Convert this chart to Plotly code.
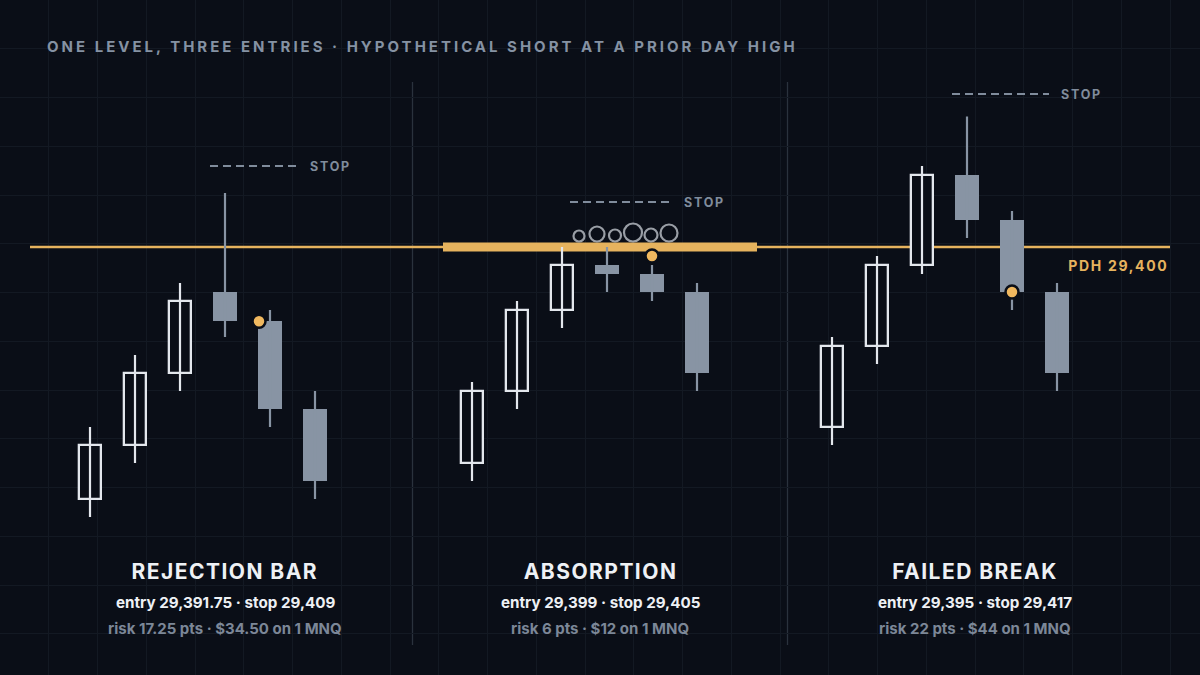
"""
Three short entries at one level: rejection bar, absorption, failed break.
"""

import json
import plotly.graph_objects as go

W, H = 1200, 675

BG = "#0a0e17"
GRID = "#131923"
UP = "#e3e7ed"
DOWN = "#8894a4"
ORANGE = "#e6b35e"
DOT = "#f0b85f"
MUTED = "#8592a3"
STOP_GREY = "#808c9c"
DIVIDER = "#2a323d"
TEXT = "#eef1f5"
RISK = "#7c8797"
FONT = "Inter, Roboto, sans-serif"

# ---- data ----
PANELS = ["REJECTION BAR", "ABSORPTION", "FAILED BREAK"]
PDH = 29400

rej_open = [29372, 29378, 29386, 29395, 29391.75, 29382]
rej_high = [29380, 29388, 29396, 29406, 29393, 29384]
rej_low = [29370, 29376, 29384, 29390, 29380, 29372]
rej_close = [29378, 29386, 29394, 29391.75, 29382, 29374]

abs_open = [29376, 29384, 29393, 29398, 29397, 29395]
abs_high = [29385, 29394, 29400, 29400, 29398, 29396]
abs_low = [29374, 29382, 29391, 29395, 29394, 29384]
abs_close = [29384, 29393, 29398, 29397, 29395, 29386]

fb_open = [29380, 29389, 29398, 29408, 29403, 29395]
fb_high = [29390, 29399, 29409, 29414.5, 29404, 29396]
fb_low = [29378, 29387, 29397, 29401, 29393, 29384]
fb_close = [29389, 29398, 29408, 29403, 29395, 29386]

entry_price = [29391.75, 29399, 29395]
stop_price = [29409, 29405, 29417]
entry_bar = [4, 4, 4]

entry_text = [
    "entry 29,391.75 · stop 29,409",
    "entry 29,399 · stop 29,405",
    "entry 29,395 · stop 29,417",
]
risk_text = [
    "risk 17.25 pts · $34.50 on 1 MNQ",
    "risk 6 pts · $12 on 1 MNQ",
    "risk 22 pts · $44 on 1 MNQ",
]

# resting-size prints absorbed at the level (relative bubble size)
absorb_sizes = [11, 15, 12, 18, 13, 17]

TITLE = "ONE LEVEL, THREE ENTRIES · HYPOTHETICAL SHORT AT A PRIOR DAY HIGH"

# ---- layout constants (pixel space on x, price on y) ----
PX_PER_PT = 9
PDH_PX = 247
Y_TOP = PDH + PDH_PX / PX_PER_PT
Y_BOT = PDH - (H - PDH_PX) / PX_PER_PT
GRID_STEP = 48.75

PANEL_CENTER = [225, 600, 975]
FIRST_BAR_X = [90, 472, 832]
BAR_STEP = 45
BODY_W = 24
STOP_SPAN = [(210, 298), (570, 672), (952, 1049)]
ENTRY_DX = [-11, 0, 0]
BUBBLE_X0, BUBBLE_STEP = 579, 18
BAND_X = (443, 757)


def paper_y(px):
    return 1 - px / H


candles = [
    (rej_open, rej_high, rej_low, rej_close),
    (abs_open, abs_high, abs_low, abs_close),
    (fb_open, fb_high, fb_low, fb_close),
]

up = dict(x=[], o=[], h=[], l=[], c=[])
dn = dict(x=[], o=[], h=[], l=[], c=[])
entry_x = []
for k, (o, h, l, c) in enumerate(candles):
    xs = [FIRST_BAR_X[k] + i * BAR_STEP for i in range(len(o))]
    for x, oo, hh, ll, cc in zip(xs, o, h, l, c):
        d = up if cc >= oo else dn
        d["x"].append(x)
        d["o"].append(oo)
        d["h"].append(hh)
        d["l"].append(ll)
        d["c"].append(cc)
    entry_x.append(xs[entry_bar[k]] + ENTRY_DX[k])


def wick_xy(d):
    wx, wy = [], []
    for x, hh, ll in zip(d["x"], d["h"], d["l"]):
        wx += [x, x, None]
        wy += [ll, hh, None]
    return wx, wy


fig = go.Figure()

for d, color in [(up, UP), (dn, DOWN)]:
    wx, wy = wick_xy(d)
    fig.add_trace(go.Scatter(
        x=wx, y=wy, mode="lines",
        line=dict(color=color, width=2.2), hoverinfo="skip",
    ))

# hollow up bodies
fig.add_trace(go.Bar(
    x=up["x"], base=up["o"],
    y=[cc - oo for oo, cc in zip(up["o"], up["c"])],
    width=BODY_W - 2,
    marker=dict(color=BG, line=dict(color=UP, width=2.3)),
))
# filled down bodies
fig.add_trace(go.Bar(
    x=dn["x"], base=dn["c"],
    y=[oo - cc for oo, cc in zip(dn["o"], dn["c"])],
    width=BODY_W + 0.5,
    marker=dict(color=DOWN, line=dict(width=0)),
))

# absorption bubbles sitting on the level
fig.add_trace(go.Scatter(
    x=[BUBBLE_X0 + i * BUBBLE_STEP for i in range(len(absorb_sizes))],
    y=[PDH + 0.5 + (s / 2 + 1) / PX_PER_PT for s in absorb_sizes],
    mode="markers",
    marker=dict(size=absorb_sizes, color=BG,
                line=dict(color="#d6dbe2", width=2.2)),
    hoverinfo="skip",
))

# entry fills
fig.add_trace(go.Scatter(
    x=entry_x, y=entry_price, mode="markers",
    marker=dict(size=13, color=DOT, line=dict(color=BG, width=2.5)),
    hoverinfo="skip",
))

# level line + absorption band (above grid, below candles)
fig.add_shape(type="line", x0=30, x1=1170, y0=PDH, y1=PDH,
              line=dict(color=ORANGE, width=2.5), layer="between")
fig.add_shape(type="rect", x0=BAND_X[0], x1=BAND_X[1],
              y0=PDH - 0.5, y1=PDH + 0.5,
              fillcolor=ORANGE, line=dict(width=0), layer="between")

# panel dividers
for xd in [412.5, 787.5]:
    fig.add_shape(type="line", x0=xd, x1=xd, xref="x", yref="paper",
                  y0=paper_y(645), y1=paper_y(82),
                  line=dict(color=DIVIDER, width=1.3), layer="between")

annotations = []
spaced = {}


def note(text, x, y, size, color, weight=700, xanchor="center",
         xref="x", yref="paper", spacing=None):
    align = {"left": "left", "right": "right"}.get(xanchor, "center")
    if spacing:
        spaced[str(len(annotations))] = spacing
    annotations.append(dict(
        text=text, x=x, y=y, xref=xref, yref=yref, showarrow=False,
        xanchor=xanchor, yanchor="middle", align=align,
        font=dict(family=FONT, size=size, color=color, weight=weight),
    ))


# stop levels
for k in range(3):
    x0, x1 = STOP_SPAN[k]
    fig.add_shape(type="line", x0=x0, x1=x1, y0=stop_price[k], y1=stop_price[k],
                  line=dict(color=STOP_GREY, width=2.2, dash="8px,5px"))
    note("STOP", x1 + 10, stop_price[k], 12.5, STOP_GREY,
         xanchor="left", yref="y", spacing="0.14em")

note(TITLE, 45, paper_y(46), 15, MUTED, xanchor="left", spacing="0.2em")
note("PDH 29,400", 1170, PDH - 2, 14, ORANGE, xanchor="right",
     yref="y", spacing="0.12em")

for k in range(3):
    note(PANELS[k], PANEL_CENTER[k], paper_y(571), 21, TEXT, spacing="0.07em")
    note(entry_text[k], PANEL_CENTER[k], paper_y(602), 15.2, TEXT, weight=700)
    note(risk_text[k], PANEL_CENTER[k], paper_y(628), 15, RISK, weight=700)

fig.update_layout(
    width=W, height=H,
    paper_bgcolor=BG, plot_bgcolor=BG,
    margin=dict(l=0, r=0, t=0, b=0),
    showlegend=False, barmode="overlay", bargap=0,
    annotations=annotations,
    xaxis=dict(range=[0, W], tick0=0, dtick=GRID_STEP, showgrid=True,
               gridcolor=GRID, gridwidth=1, showticklabels=False,
               zeroline=False, showline=False, fixedrange=True),
    yaxis=dict(range=[Y_BOT, Y_TOP], tick0=Y_TOP, dtick=GRID_STEP / PX_PER_PT,
               showgrid=True, gridcolor=GRID, gridwidth=1,
               showticklabels=False, zeroline=False, showline=False,
               fixedrange=True),
)

page_js = (
    "document.body.style.margin='0';document.body.style.background='" + BG + "';"
    "var gd=document.getElementById('{plot_id}');var sp=" + json.dumps(spaced) + ";"
    "gd.querySelectorAll('g.annotation').forEach(function(g){"
    "var i=g.getAttribute('data-index');if(sp[i]){"
    "g.querySelectorAll('text').forEach(function(t){t.style.letterSpacing=sp[i];});}});"
)

fig.write_html("out.html", post_script=page_js, config={"displayModeBar": False})
